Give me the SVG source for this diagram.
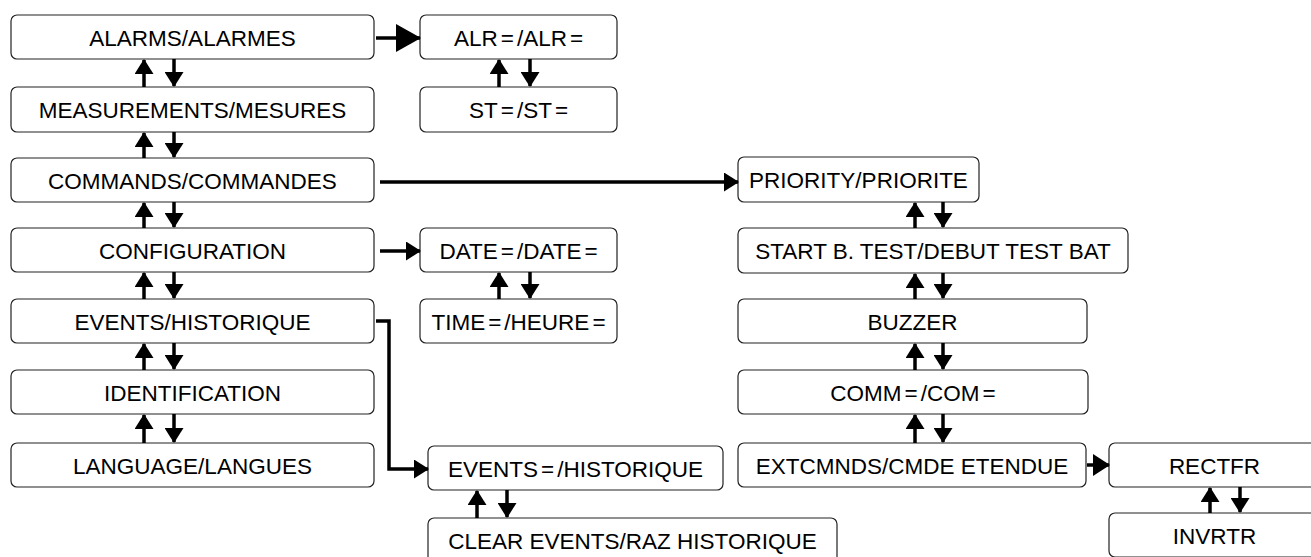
<svg xmlns="http://www.w3.org/2000/svg" width="1311" height="557" viewBox="0 0 1311 557">
<style>
.box{fill:#fff;stroke:#222;stroke-width:1.2}
.t{font-family:"Liberation Sans",Arial,sans-serif;font-size:22.5px;fill:#000;text-anchor:middle}
.c{fill:none;stroke:#000;stroke-width:3.5}
.s{marker-end:url(#ah)}
</style>
<defs>
<marker id="ah" markerUnits="userSpaceOnUse" markerWidth="15" markerHeight="19" refX="14" refY="9.5" orient="auto"><path d="M0,0 L15,9.5 L0,19 z" fill="#000"/></marker>
<marker id="big" markerUnits="userSpaceOnUse" markerWidth="25" markerHeight="28" refX="24" refY="14" orient="auto"><path d="M0,0 L25,14 L0,28 z" fill="#000"/></marker>
<marker id="mid" markerUnits="userSpaceOnUse" markerWidth="17" markerHeight="22" refX="16" refY="11" orient="auto"><path d="M0,0 L17,11 L0,22 z" fill="#000"/></marker>
</defs>
<rect width="1311" height="557" fill="#fff"/>

<g id="n-alarms"><rect class="box" x="11" y="15" width="363" height="44" rx="6"/><text class="t" x="192.5" y="45.5">ALARMS/ALARMES</text></g>
<g id="n-measurements"><rect class="box" x="11" y="87" width="363" height="45" rx="6"/><text class="t" x="192.5" y="118">MEASUREMENTS/MESURES</text></g>
<g id="n-commands"><rect class="box" x="11" y="158" width="363" height="44" rx="6"/><text class="t" x="192.5" y="188.5">COMMANDS/COMMANDES</text></g>
<g id="n-configuration"><rect class="box" x="11" y="228" width="363" height="44" rx="6"/><text class="t" x="192.5" y="258.5">CONFIGURATION</text></g>
<g id="n-events"><rect class="box" x="11" y="299" width="363" height="44" rx="6"/><text class="t" x="192.5" y="329.5">EVENTS/HISTORIQUE</text></g>
<g id="n-identification"><rect class="box" x="11" y="370" width="363" height="44" rx="6"/><text class="t" x="192.5" y="400.5">IDENTIFICATION</text></g>
<g id="n-language"><rect class="box" x="11" y="443" width="363" height="44" rx="6"/><text class="t" x="192.5" y="473.5">LANGUAGE/LANGUES</text></g>

<g id="n-alr"><rect class="box" x="420" y="15" width="197" height="44" rx="6"/><text class="t" x="518.5" y="45.5">ALR<tspan dx="3">=</tspan><tspan dx="3">/ALR</tspan><tspan dx="3">=</tspan></text></g>
<g id="n-st"><rect class="box" x="420" y="87" width="197" height="45" rx="6"/><text class="t" x="518.5" y="118">ST<tspan dx="3">=</tspan><tspan dx="3">/ST</tspan><tspan dx="3">=</tspan></text></g>
<g id="n-date"><rect class="box" x="420" y="228" width="197" height="44" rx="6"/><text class="t" x="518.5" y="258.5">DATE<tspan dx="3">=</tspan><tspan dx="3">/DATE</tspan><tspan dx="3">=</tspan></text></g>
<g id="n-time"><rect class="box" x="420" y="299" width="197" height="44" rx="6"/><text class="t" x="518.5" y="329.5">TIME<tspan dx="3">=</tspan><tspan dx="3">/HEURE</tspan><tspan dx="3">=</tspan></text></g>

<g id="n-events-sub"><rect class="box" x="428" y="446" width="295" height="44" rx="6"/><text class="t" x="575.5" y="476.5">EVENTS<tspan dx="3">=</tspan><tspan dx="3">/HISTORIQUE</tspan></text></g>
<g id="n-clear"><rect class="box" x="428" y="518" width="409" height="45" rx="6"/><text class="t" x="632.5" y="549">CLEAR EVENTS/RAZ HISTORIQUE</text></g>

<g id="n-priority"><rect class="box" x="738" y="157" width="241" height="45" rx="6"/><text class="t" x="858.5" y="188">PRIORITY/PRIORITE</text></g>
<g id="n-start"><rect class="box" x="738" y="228" width="390" height="45" rx="6"/><text class="t" x="933" y="259">START B. TEST/DEBUT TEST BAT</text></g>
<g id="n-buzzer"><rect class="box" x="738" y="299" width="349" height="44" rx="6"/><text class="t" x="912.5" y="329.5">BUZZER</text></g>
<g id="n-comm"><rect class="box" x="738" y="370" width="350" height="44" rx="6"/><text class="t" x="913" y="400.5">COMM<tspan dx="3">=</tspan><tspan dx="3">/COM</tspan><tspan dx="3">=</tspan></text></g>
<g id="n-extcmnds"><rect class="box" x="738" y="443" width="348" height="44" rx="6"/><text class="t" x="912" y="473.5">EXTCMNDS/CMDE ETENDUE</text></g>
<g id="n-rectfr"><rect class="box" x="1109" y="443" width="211" height="44" rx="6"/><text class="t" x="1214.5" y="473.5">RECTFR</text></g>
<g id="n-invrtr"><rect class="box" x="1109" y="513" width="211" height="44" rx="6"/><text class="t" x="1214.5" y="543.5">INVRTR</text></g>

<g id="connectors">
<path class="c" marker-end="url(#big)" d="M376,38 H420"/>
<path class="c s" d="M380,251 H420"/>
<path class="c s" d="M380,182 H738"/>
<path class="c s" d="M376,321 H389 V469 H428"/>
<path class="c" marker-end="url(#mid)" d="M1087,465 H1109"/>

<path class="c s" d="M144,87 V60"/><path class="c s" d="M174,59 V86"/>
<path class="c s" d="M144,158 V133"/><path class="c s" d="M174,132 V157"/>
<path class="c s" d="M144,228 V203"/><path class="c s" d="M174,202 V227"/>
<path class="c s" d="M144,299 V273"/><path class="c s" d="M174,272 V298"/>
<path class="c s" d="M144,370 V344"/><path class="c s" d="M174,343 V369"/>
<path class="c s" d="M144,443 V415"/><path class="c s" d="M174,414 V442"/>

<path class="c s" d="M499,87 V60"/><path class="c s" d="M530,59 V86"/>
<path class="c s" d="M499,299 V273"/><path class="c s" d="M530,272 V298"/>
<path class="c s" d="M477,518 V491"/><path class="c s" d="M507,490 V517"/>

<path class="c s" d="M915,228 V203"/><path class="c s" d="M943,202 V227"/>
<path class="c s" d="M915,299 V274"/><path class="c s" d="M943,273 V298"/>
<path class="c s" d="M915,370 V344"/><path class="c s" d="M943,343 V369"/>
<path class="c s" d="M915,443 V415"/><path class="c s" d="M943,414 V442"/>

<path class="c s" d="M1210,513 V488"/><path class="c s" d="M1240,487 V512"/>
</g>
</svg>
